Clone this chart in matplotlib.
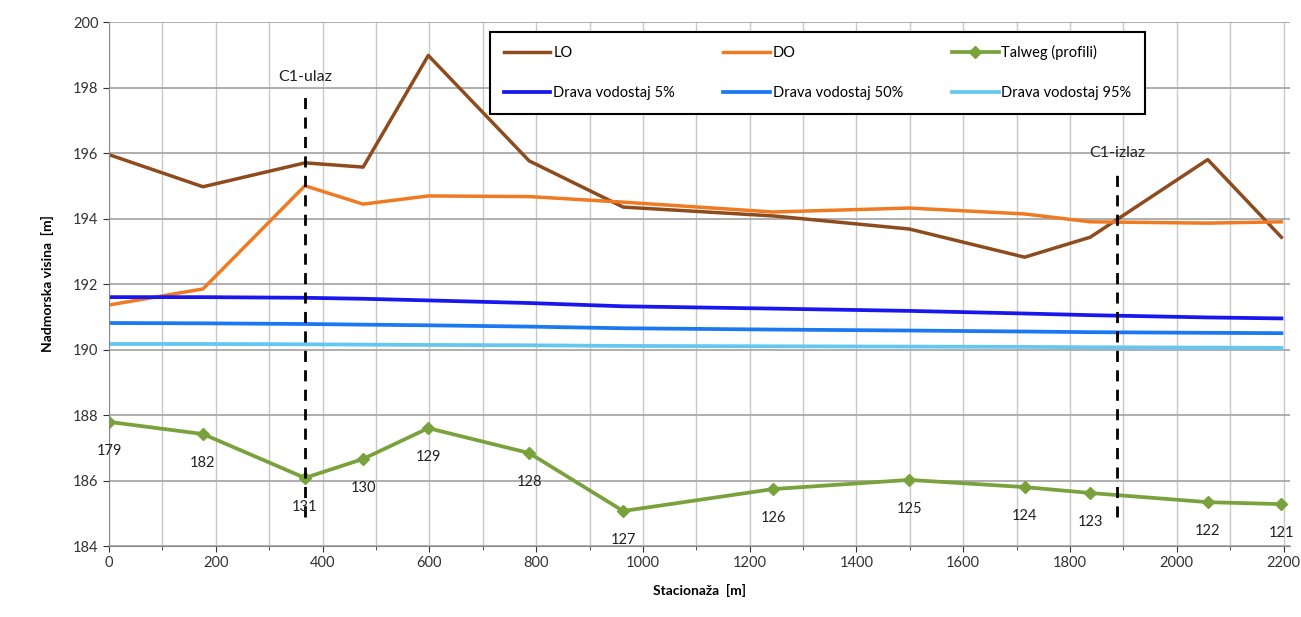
import matplotlib.pyplot as plt
from matplotlib.ticker import MultipleLocator

plt.rcParams['font.family'] = ['Lato', 'DejaVu Sans']

# stacionaza [m] of the cross sections (profili)
station = [0, 176, 367, 476, 598, 787, 963, 1244, 1499, 1715, 1838, 2058, 2196]
profile = ["179", "182", "131", "130", "129", "128", "127", "126", "125", "124", "123", "122", "121"]

lo = [195.95, 194.97, 195.7, 195.57, 198.98, 195.76, 194.35, 194.08, 193.68, 192.82, 193.43, 195.8, 193.43]
do = [191.36, 191.85, 195.0, 194.44, 194.69, 194.67, 194.5, 194.2, 194.32, 194.14, 193.9, 193.86, 193.9]
talweg = [187.79, 187.42, 186.08, 186.66, 187.6, 186.84, 185.07, 185.74, 186.02, 185.8, 185.62, 185.34, 185.28]

drava_5 = [191.6, 191.6, 191.58, 191.55, 191.5, 191.42, 191.32, 191.25, 191.18, 191.1, 191.05, 190.98, 190.95]
drava_50 = [190.81, 190.8, 190.78, 190.76, 190.74, 190.7, 190.65, 190.61, 190.58, 190.55, 190.53, 190.51, 190.5]
drava_95 = [190.17, 190.17, 190.16, 190.15, 190.14, 190.13, 190.11, 190.1, 190.09, 190.08, 190.07, 190.06, 190.05]

# ulaz / izlaz markers
c1_x = [367, 1888]
c1_label = ["C1-ulaz", "C1-izlaz"]
c1_top = [197.8, 195.5]

fig = plt.figure(figsize=(13.01, 6.17), dpi=100)
ax = fig.add_axes([0.0838, 0.115, 0.9077, 0.8493])

h_lo, = ax.plot(station, lo, color="#8E4B1E", lw=2.5, label="LO")
h_do, = ax.plot(station, do, color="#EE7A22", lw=2.5, label="DO")
h_tw, = ax.plot(station, talweg, color="#79A23C", lw=2.7, marker="D", ms=6, label="Talweg (profili)")
h_5, = ax.plot(station, drava_5, color="#1717EE", lw=2.7, label="Drava vodostaj 5%")
h_50, = ax.plot(station, drava_50, color="#1A78F2", lw=2.7, label="Drava vodostaj 50%")
h_95, = ax.plot(station, drava_95, color="#63C7F2", lw=2.7, label="Drava vodostaj 95%")

for x, name, top in zip(c1_x, c1_label, c1_top):
    ax.plot([x, x], [184.9, top], color="black", lw=2, ls=(0, (4, 3)))
    ax.text(x, top + 0.3, name, ha="center", va="bottom", fontsize=11.5, color="#222222")

for x, y, name in zip(station, talweg, profile):
    ax.annotate(name, (x, y), xytext=(0, -21), textcoords="offset points",
                ha="center", va="center", fontsize=10.5, color="#222222")

ax.set_xlim(0, 2212)
ax.set_ylim(184, 200)
ax.xaxis.set_major_locator(MultipleLocator(200))
ax.xaxis.set_minor_locator(MultipleLocator(100))
ax.yaxis.set_major_locator(MultipleLocator(2))
ax.grid(True, axis="x", which="both", color="#C8C8C8", lw=1)
ax.grid(True, axis="y", which="major", color="#A8A8A8", lw=1.3)
ax.set_axisbelow(True)
for side in ["top", "right"]:
    ax.spines[side].set_visible(False)
ax.spines["left"].set_color("#888888")
ax.spines["bottom"].set_color("#888888")
ax.tick_params(axis="both", which="both", labelsize=10.5, colors="#333333", length=4)
ax.tick_params(axis="x", which="minor", length=3)

ax.set_xlabel("Stacionaža  [m]", fontsize=10, fontweight="bold", labelpad=10)
ax.set_ylabel("Nadmorska visina  [m]", fontsize=10, fontweight="bold", labelpad=14)

# row-wise order: LO, DO, Talweg / 5%, 50%, 95%
handles = [h_lo, h_5, h_do, h_50, h_tw, h_95]
leg = ax.legend(handles, [h.get_label() for h in handles], ncol=3, loc="upper left",
                bbox_to_anchor=(0.323, 0.836, 0.554, 0.145), mode="expand",
                fontsize=10.5, frameon=True, fancybox=False, borderpad=0.9,
                handlelength=3.2, handletextpad=0.2, borderaxespad=0, labelspacing=1.8)
leg.get_frame().set_edgecolor("black")
leg.get_frame().set_linewidth(1.5)
leg.get_frame().set_alpha(1)

fig.savefig("out.png", dpi=100)
